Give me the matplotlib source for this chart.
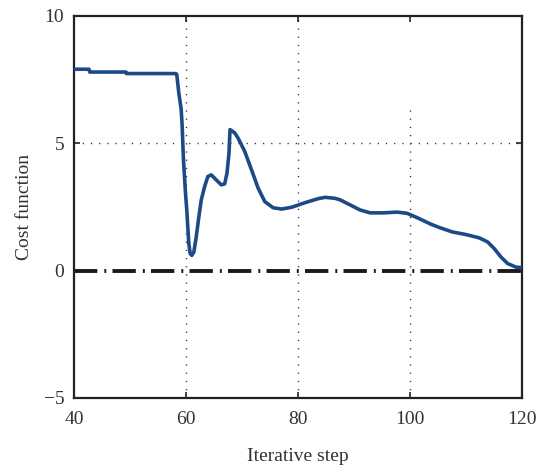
import matplotlib
matplotlib.use('Agg')
import matplotlib.pyplot as plt

# cost function history
steps = [40, 42.69, 42.8, 49.27, 49.36, 57.94, 58.24, 58.35, 58.71, 59.14,
         59.32, 59.43, 59.55, 59.73, 59.91, 60.14, 60.32, 60.50, 60.75,
         61.04, 61.40, 61.83, 62.30, 62.73, 63.32, 63.91, 64.52, 65.42,
         66.31, 66.91, 67.32, 67.68, 67.86, 68.70, 69.29, 70.49, 71.70,
         72.88, 74.08, 75.57, 77.08, 78.87, 81.26, 83.64, 84.84, 86.64,
         87.53, 89.33, 91.12, 92.91, 95.30, 97.70, 99.50, 101.29, 103.68,
         105.17, 107.57, 109.96, 112.34, 113.85, 115.03, 116.23, 117.43,
         118.92, 120]
cost = [7.91, 7.91, 7.80, 7.80, 7.74, 7.74, 7.73, 7.71, 6.99, 6.33,
        5.67, 5.01, 4.35, 3.70, 3.04, 2.38, 1.72, 1.07, 0.67,
        0.60, 0.73, 1.33, 2.12, 2.78, 3.30, 3.70, 3.76, 3.56,
        3.37, 3.41, 3.83, 4.62, 5.54, 5.41, 5.21, 4.68, 3.96,
        3.24, 2.71, 2.47, 2.42, 2.49, 2.67, 2.83, 2.88, 2.84,
        2.78, 2.58, 2.38, 2.27, 2.27, 2.30, 2.25, 2.08, 1.83,
        1.70, 1.52, 1.42, 1.29, 1.13, 0.87, 0.54, 0.28,
        0.14, 0.12]

reference = 0
x_ticks = [40, 60, 80, 100, 120]
y_ticks = [-5, 0, 5, 10]
grid_x = [60, 80, 100]
grid_x_top = [10, 10, 6.6]

plt.rcParams['font.family'] = ['Liberation Serif', 'DejaVu Serif']
plt.rcParams['font.size'] = 14
plt.rcParams['text.color'] = '#333333'
plt.rcParams['xtick.color'] = '#222222'
plt.rcParams['ytick.color'] = '#222222'
plt.rcParams['xtick.labelcolor'] = '#333333'
plt.rcParams['ytick.labelcolor'] = '#333333'
plt.rcParams['axes.labelcolor'] = '#333333'

fig = plt.figure(figsize=(5.46, 4.70), dpi=100)
ax = fig.add_axes([74 / 546, 1 - 398 / 470, (522 - 74) / 546, (398 - 16) / 470])

# dotted grid
for gx, top in zip(grid_x, grid_x_top):
    ax.plot([gx, gx], [-5, top], color='#333333', lw=1.0,
            linestyle=(0, (0.9, 5.0)), zorder=1)
ax.plot([40, 120], [5, 5], color='#333333', lw=1.0,
        linestyle=(0, (0.9, 5.0)), zorder=1)

# reference line
ax.plot([40, 120], [reference, reference], color='#1a1a1a', lw=2.8,
        linestyle=(0, (6.0, 1.8, 0.5, 1.6)), zorder=2)

ax.plot(steps, cost, color='#1b4a86', lw=2.6, zorder=3,
        solid_joinstyle='round', solid_capstyle='round')

ax.set_xlim(40, 120)
ax.set_ylim(-5, 10)
ax.set_xticks(x_ticks)
ax.set_yticks(y_ticks)
ax.tick_params(direction='in', length=4, width=1.2, top=True, right=True)
ax.tick_params(axis='x', pad=9)
ax.tick_params(axis='y', pad=7)
for s in ax.spines.values():
    s.set_linewidth(1.6)
    s.set_color('#222222')

ax.set_xlabel('Iterative step', labelpad=15)
ax.set_ylabel('Cost function', labelpad=8)

fig.savefig('out.png', dpi=100)
